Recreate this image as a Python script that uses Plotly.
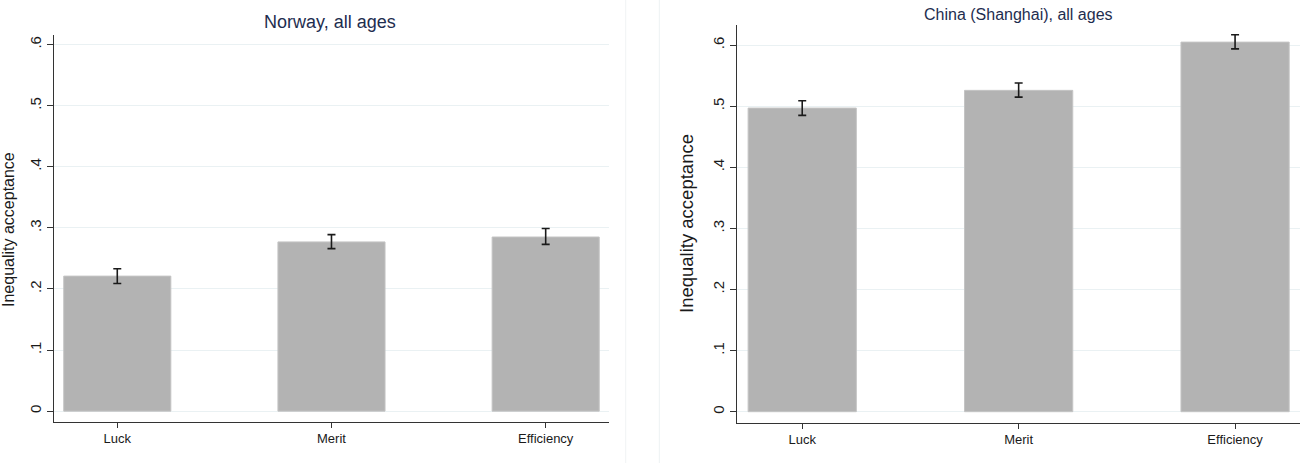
import plotly.graph_objects as go

categories = ["Luck", "Merit", "Efficiency"]

norway_mean = [0.221, 0.277, 0.285]
norway_upper = [0.233, 0.289, 0.299]
norway_lower = [0.209, 0.266, 0.273]

china_mean = [0.497, 0.526, 0.605]
china_upper = [0.509, 0.538, 0.617]
china_lower = [0.485, 0.515, 0.594]

ytick_vals = [0, 0.1, 0.2, 0.3, 0.4, 0.5, 0.6]
ytick_text = ["0", ".1", ".2", ".3", ".4", ".5", ".6"]

titles = ["Norway, all ages", "China (Shanghai), all ages"]
ytitle = "Inequality acceptance"

BAR = "#b3b3b3"
GRID = "#eaf1f3"
AX = "#333333"
FONT = "Liberation Sans, Arial, sans-serif"

fig = go.Figure()

def add_panel(mean, upper, lower, xa, ya):
    fig.add_trace(go.Bar(
        x=list(range(len(categories))), y=mean,
        width=0.5,
        marker=dict(color=BAR, line=dict(color="#c4c4c4", width=1)),
        error_y=dict(type="data", symmetric=False,
                     array=[u - m for u, m in zip(upper, mean)],
                     arrayminus=[m - l for m, l in zip(mean, lower)],
                     color="#1a1a1a", thickness=1.6, width=4),
        xaxis=xa, yaxis=ya, showlegend=False, hoverinfo="skip",
    ))

add_panel(norway_mean, norway_upper, norway_lower, "x", "y")
add_panel(china_mean, china_upper, china_lower, "x2", "y2")

def xaxis(domain, rng, anchor):
    return dict(domain=domain, range=rng, anchor=anchor, automargin=False,
                tickvals=list(range(len(categories))), ticktext=categories,
                ticks="outside", ticklen=5, tickcolor=AX, tickwidth=1,
                showline=True, linecolor=AX, linewidth=1, showgrid=False,
                zeroline=False, tickfont=dict(size=13, color="#1a1a1a", family=FONT))

def yaxis(domain, rng, anchor):
    return dict(domain=domain, range=rng, anchor=anchor, automargin=False,
                tickvals=ytick_vals, ticktext=ytick_text, tickangle=-90,
                ticks="outside", ticklen=6, tickcolor=AX, tickwidth=1,
                showline=True, linecolor=AX, linewidth=1,
                showgrid=True, gridcolor=GRID, gridwidth=1, zeroline=False,
                tickfont=dict(size=15, color="#1a1a1a", family=FONT))

fig.update_layout(
    width=1316, height=463,
    margin=dict(l=0, r=0, t=0, b=0),
    paper_bgcolor="white", plot_bgcolor="white",
    font=dict(family=FONT),
    bargap=0.5,
    xaxis=xaxis([54.3/1316, 609.3/1316], [-0.294, 2.297], "y"),
    yaxis=yaxis([1 - 421.7/463, 1 - 35/463], [-0.0173, 0.6157], "x"),
    xaxis2=xaxis([737.3/1316, 1300/1316], [-0.30, 2.30], "y2"),
    yaxis2=yaxis([1 - 422.7/463, 1 - 25/463], [-0.018, 0.633], "x2"),
    annotations=[
        dict(text=titles[0], x=330/1316, y=1 - 22/463, xref="paper", yref="paper",
             showarrow=False, xanchor="center", yanchor="middle",
             font=dict(size=18, color="#1e2d4f", family=FONT)),
        dict(text=titles[1], x=1018/1316, y=1 - 15/463, xref="paper", yref="paper",
             showarrow=False, xanchor="center", yanchor="middle",
             font=dict(size=16, color="#1e2d4f", family=FONT)),
        dict(text=ytitle, x=8/1316, y=1 - 230/463, xref="paper", yref="paper",
             showarrow=False, xanchor="center", yanchor="middle", textangle=-90,
             font=dict(size=16, color="#1a1a1a", family=FONT)),
        dict(text=ytitle, x=687/1316, y=1 - 224/463, xref="paper", yref="paper",
             showarrow=False, xanchor="center", yanchor="middle", textangle=-90,
             font=dict(size=18.5, color="#1a1a1a", family=FONT)),
    ],
    shapes=[
        dict(type="line", xref="paper", yref="paper", x0=625.7/1316, x1=625.7/1316, y0=0, y1=1,
             line=dict(color="#f0f3f4", width=1)),
        dict(type="line", xref="paper", yref="paper", x0=659.3/1316, x1=659.3/1316, y0=0, y1=1,
             line=dict(color="#edf2f3", width=1)),
    ],
)

fig.write_html(
    "out.html",
    config={"displayModeBar": False, "staticPlot": True},
    post_script="document.body.style.margin='0';document.body.style.overflow='hidden';",
)
